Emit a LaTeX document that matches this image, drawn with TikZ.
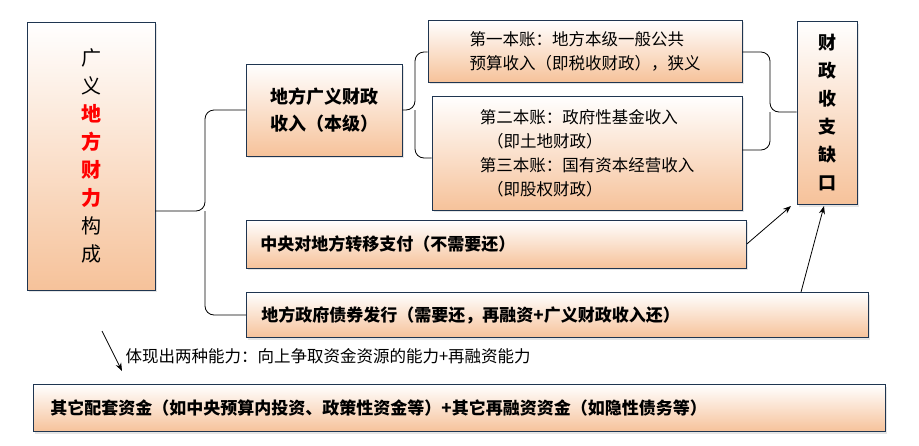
\documentclass[tikz,border=0pt]{standalone}
\usepackage{fontspec}
\setmainfont{Noto Sans CJK SC}
\usetikzlibrary{shadows,arrows.meta}
\definecolor{peach}{HTML}{F6C29A}
\definecolor{bd}{HTML}{1F3550}
\tikzset{
 bx/.style={draw=bd,line width=0.8pt,top color=white,bottom color=peach,
   drop shadow={shadow xshift=2pt,shadow yshift=-2pt,fill=gray!40},
   inner sep=0pt,font=\fontsize{16.5}{24}\selectfont},
 ln/.style={line width=0.8pt,rounded corners=9pt},
 ar/.style={line width=0.8pt,-{Stealth[length=8pt,width=6pt]}}
}
\begin{document}
\begin{tikzpicture}[x=1pt,y=-1pt]
\useasboundingbox[fill=white] (0,0) rectangle (919,445);
\node[bx,minimum width=128,minimum height=268,align=center,font=\fontsize{20}{28}\selectfont] (L) at (91,156) {广\\义\\\textcolor{red}{\bfseries 地}\\\textcolor{red}{\bfseries 方}\\\textcolor{red}{\bfseries 财}\\\textcolor{red}{\bfseries 力}\\构\\成};
\node[bx,minimum width=156,minimum height=92,align=left,font=\fontsize{18}{27}\selectfont\bfseries] (A) at (324,110) {地方广义财政\\收入（本级）};
\node[bx,minimum width=314,minimum height=62,align=left] (B1) at (585,51) {第一本账：地方本级一般公共\\预算收入（即税收财政），狭义};
\node[bx,minimum width=310,minimum height=114,align=left] (B2) at (587,153) {第二本账：政府性基金收入\\\ \ （即土地财政）\\第三本账：国有资本经营收入\\\ \ （即股权财政）};
\node[bx,minimum width=60,minimum height=183,align=center,font=\fontsize{18}{28}\selectfont\bfseries] (C) at (827,113) {财\\政\\收\\支\\缺\\口};
\node[bx,minimum width=500,minimum height=48,anchor=west,text width=480,align=left,font=\fontsize{17}{22}\selectfont\bfseries] (D) at (246,244) {\hspace*{4pt}中央对地方转移支付（不需要还）};
\node[bx,minimum width=622,minimum height=45,anchor=west,text width=600,align=left,font=\fontsize{17}{22}\selectfont\bfseries] (E) at (246,315) {\hspace*{4pt}地方政府债券发行（需要还，再融资+广义财政收入还）};
\node[bx,minimum width=852,minimum height=47,anchor=west,text width=830,align=left,font=\fontsize{17}{22}\selectfont\bfseries] (F) at (33,408) {\hspace*{6pt}其它配套资金（如中央预算内投资、政策性资金等）+其它再融资资金（如隐性债务等）};
\node[anchor=west,font=\fontsize{16.5}{22}\selectfont] (T) at (122,356) {体现出两种能力：向上争取资金资源的能力+再融资能力};
% left brace
\draw[ln] (L.east|-0,211) -- (205,211) -- (205,110) -- (A.west);
\draw[ln] (205,211) -- (205,315) -- (E.west);
% middle brace
\draw[ln] (A.east) -- (415,110) -- (415,52) -- (B1.west|-0,52);
\draw[ln] (415,110) -- (415,158) -- (B2.west|-0,158);
% right brace
\draw[ln] (B1.east|-0,52) -- (770,52) -- (770,112) -- (C.west|-0,112);
\draw[ln] (B2.east|-0,150) -- (770,150) -- (770,112);
% arrows
\draw[ar] (D.east) -- (791,206);
\draw[ar] (E.north-|801,0) -- (824,206);
\coordinate (s) at (102,331);
\draw[ar] (s) -- (122,371);
\end{tikzpicture}
\end{document}
